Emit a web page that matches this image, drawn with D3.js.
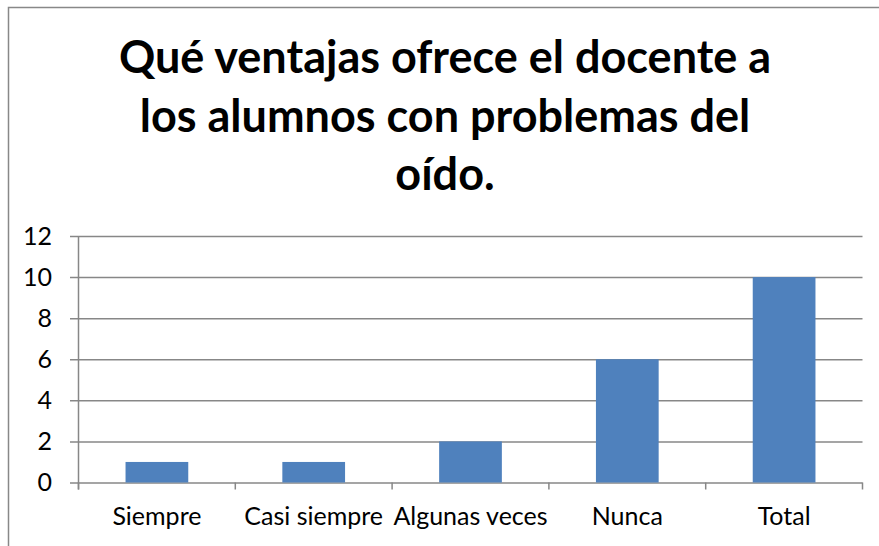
<!DOCTYPE html>
<html>
<head>
<meta charset="utf-8">
<script src="https://cdn.jsdelivr.net/npm/d3@7"></script>
<style>
  body { margin: 0; background: #fff; }
  svg text { font-family: Lato, "Open Sans", sans-serif; fill: #000; }
</style>
</head>
<body>
<div id="chart"></div>
<script>
let categories = ['Siempre', 'Casi siempre', 'Algunas veces', 'Nunca', 'Total'];
let values = [1, 1, 2, 6, 10];
let yTicks = [0, 2, 4, 6, 8, 10, 12];
let titleLines = ['Qué ventajas ofrece el docente a', 'los alumnos con problemas del', 'oído.'];

let width = 879, height = 546;
let margin = { "top": 236, "bottom": 63, "left": 78.5, "right": 16.5 };

let svg = d3.select('#chart').append('svg').attr('width', width).attr('height', height);

// outer frame (only top and left edges show)
svg.append('rect')
    .attr('x', 8.5).attr('y', 7.5)
    .attr('width', width + 20).attr('height', height + 20)
    .attr('fill', 'none')
    .attr('stroke', '#888')
    .attr('stroke-width', 1.5);

// title
svg.append('g').selectAll('text')
    .data(titleLines)
    .enter()
    .append('text')
    .attr('x', 445)
    .attr('y', function(d, i) { return 73 + i * 58.5; })
    .attr('text-anchor', 'middle')
    .style('font-size', '45px')
    .style('font-weight', 'bold')
    .text(function(d) { return d; });

let xScale = d3.scaleBand()
    .domain(categories)
    .range([margin.left, width - margin.right])
    .paddingInner(0.6)
    .paddingOuter(0.3);
let yScale = d3.scaleLinear()
    .domain([0, 12])
    .range([height - margin.bottom - 0.5, margin.top]);

let gridColor = '#878787';

// gridlines + y labels
let yAxis = d3.axisLeft(yScale)
    .tickValues(yTicks)
    .tickSize(-(width - margin.right - 70))
    .tickPadding(18);
let gy = svg.append('g')
    .attr('transform', 'translate(70,0)')
    .call(yAxis);
gy.select('.domain').remove();
gy.selectAll('line').attr('stroke', gridColor).attr('stroke-width', 1.5);
gy.selectAll('text').style('font-size', '25px').style('font-family', 'Lato, sans-serif');

// y axis line
svg.append('line')
    .attr('x1', margin.left).attr('x2', margin.left)
    .attr('y1', yScale(12)).attr('y2', yScale(0) + 7)
    .attr('stroke', gridColor).attr('stroke-width', 1.5);

// x tick marks at category boundaries
let step = xScale.step();
let x0 = margin.left;
svg.append('g').selectAll('line')
    .data(d3.range(categories.length + 1))
    .enter()
    .append('line')
    .attr('x1', function(d) { return x0 + d * step; })
    .attr('x2', function(d) { return x0 + d * step; })
    .attr('y1', yScale(0))
    .attr('y2', yScale(0) + 7)
    .attr('stroke', gridColor).attr('stroke-width', 1.5);

// bars
svg.append('g')
    .selectAll('rect')
    .data(values)
    .enter()
    .append('rect')
    .attr('x', function(d, i) { return xScale(categories[i]); })
    .attr('y', function(d) { return yScale(d); })
    .attr('width', xScale.bandwidth())
    .attr('height', function(d) { return yScale(0) - yScale(d); })
    .attr('fill', '#4F81BD');

// x labels
let xAxis = d3.axisBottom(xScale).tickSize(0).tickPadding(25);
let gx = svg.append('g')
    .attr('transform', 'translate(0,' + yScale(0) + ')')
    .call(xAxis);
gx.select('.domain').remove();
gx.selectAll('text').style('font-size', '25px').style('font-family', 'Lato, sans-serif');
</script>
</body>
</html>
